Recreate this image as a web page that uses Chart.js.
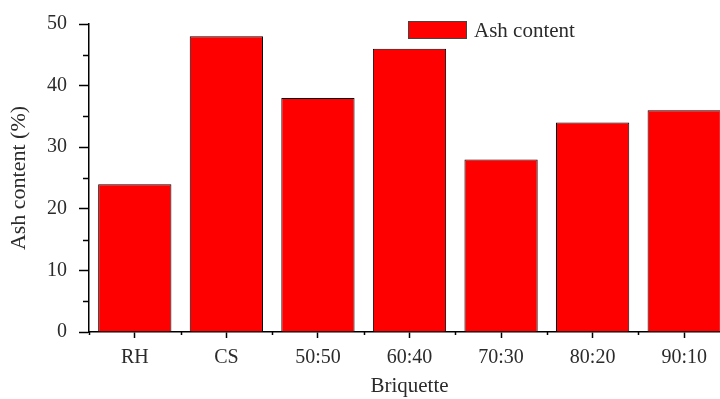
<!DOCTYPE html>
<html>
<head>
<meta charset="utf-8">
<script src="https://cdn.jsdelivr.net/npm/chart.js@4/dist/chart.umd.min.js"></script>
<style>
  html, body { margin: 0; padding: 0; background: #fff; overflow: hidden; }
</style>
</head>
<body>
<canvas id="ash-chart" width="730" height="399"></canvas>
<script>
const categories = ['RH', 'CS', '50:50', '60:40', '70:30', '80:20', '90:10'];
const ashContent = [24, 48, 38, 46, 28, 34, 36];
const seriesLabel = 'Ash content';
const yTitle = 'Ash content (%)';
const xTitle = 'Briquette';

const FONT = "'Liberation Serif', 'Times New Roman', serif";
const TEXT = '#2b2b2b';

// minor ticks + the legend, drawn by hand
const extras = {
    id: 'extras',
    afterDraw(chart) {
        const { ctx, scales: { x, y } } = chart;
        ctx.save();
        ctx.strokeStyle = '#000';
        ctx.lineWidth = 1.5;
        ctx.beginPath();
        for (let v = 5; v < 50; v += 10) {
            const py = Math.round(y.getPixelForValue(v)) + 0.5;
            ctx.moveTo(y.right - 6, py);
            ctx.lineTo(y.right, py);
        }
        for (let i = 0; i <= categories.length; i++) {
            const px = Math.round(x.getPixelForValue(i - 0.5)) + 0.5;
            ctx.moveTo(px, x.top);
            ctx.lineTo(px, x.top + 3);
        }
        ctx.stroke();

        // legend
        const ds = chart.data.datasets[0];
        ctx.fillStyle = ds.backgroundColor;
        ctx.fillRect(408, 21, 59, 18);
        ctx.lineWidth = 1;
        ctx.strokeStyle = '#444';
        ctx.strokeRect(408.5, 21.5, 58, 17);
        ctx.fillStyle = TEXT;
        ctx.font = '21px ' + FONT;
        ctx.textBaseline = 'middle';
        ctx.fillText(ds.label, 474, 31);
        ctx.restore();
    }
};

const chart = new Chart(document.getElementById('ash-chart'), {
    type: 'bar',
    data: {
        labels: categories,
        datasets: [{
            label: seriesLabel,
            data: ashContent,
            backgroundColor: '#ff0000',
            borderColor: '#000',
            borderWidth: 1,
            barPercentage: 0.8,
            categoryPercentage: 1.0,
        }]
    },
    options: {
        responsive: false,
        animation: false,
        layout: { padding: { top: 23, right: 0, left: 0, bottom: 0 } },
        plugins: {
            legend: { display: false },
            tooltip: { enabled: false },
        },
        scales: {
            x: {
                offset: true,
                grid: {
                    offset: false,
                    drawOnChartArea: false,
                    drawTicks: true,
                    tickLength: 6,
                    tickColor: '#000',
                    tickWidth: 1.5,
                },
                border: { color: '#000', width: 1.5 },
                ticks: {
                    color: TEXT,
                    font: { family: FONT, size: 20 },
                    padding: 8,
                    maxRotation: 0,
                },
                title: {
                    display: true,
                    text: xTitle,
                    color: TEXT,
                    font: { family: FONT, size: 21 },
                    padding: { top: 0, bottom: 0 },
                },
                afterFit(scale) { scale.height = 67; },
            },
            y: {
                min: 0,
                max: 50,
                grid: {
                    drawOnChartArea: false,
                    drawTicks: true,
                    tickLength: 10,
                    tickColor: '#000',
                    tickWidth: 1.5,
                },
                border: { color: '#000', width: 1.5 },
                ticks: {
                    stepSize: 10,
                    color: TEXT,
                    font: { family: FONT, size: 20 },
                    padding: 12,
                },
                title: {
                    display: true,
                    text: yTitle,
                    color: TEXT,
                    font: { family: FONT, size: 22 },
                    padding: { top: 6, bottom: 4 },
                },
                afterFit(scale) { scale.width = 89; },
            }
        }
    },
    plugins: [extras]
});
</script>
</body>
</html>
